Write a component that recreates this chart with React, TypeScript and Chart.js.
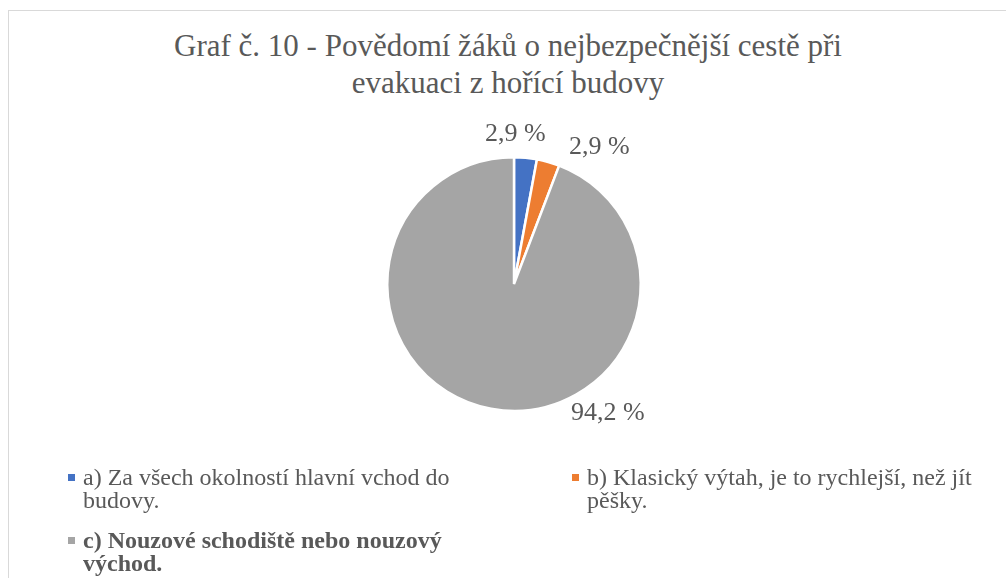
import React, { useEffect, useRef } from "react";
import { Chart, registerables } from "chart.js";

Chart.register(...registerables);

const titleLines = [
  "Graf č. 10 - Povědomí žáků o nejbezpečnější cestě při",
  "evakuaci z hořící budovy",
];
const categories = [
  "a) Za všech okolností hlavní vchod do budovy.",
  "b) Klasický výtah, je to rychlejší, než jít pěšky.",
  "c) Nouzové schodiště nebo nouzový východ.",
];
const values = [2.9, 2.9, 94.2];
const valueLabels = ["2,9 %", "2,9 %", "94,2 %"];
const colors = ["#4472C4", "#ED7D31", "#A5A5A5"];

// label placement (angle from 12 o'clock clockwise in degrees, distance as multiple of radius)
const labelPlacement = [
  [0.5, 1.18],
  [32, 1.27],
  [144, 1.26],
];

const FONT = '"Liberation Serif", "Times New Roman", serif';
const TEXT = "#595959";

const dataLabelPlugin = {
  id: "dataLabelsOut",
  afterDatasetsDraw(chart: any) {
    const ctx = chart.ctx;
    const meta = chart.getDatasetMeta(0);
    ctx.save();
    ctx.font = `26px ${FONT}`;
    ctx.fillStyle = TEXT;
    ctx.textAlign = "center";
    ctx.textBaseline = "middle";
    meta.data.forEach((arc: any, i: number) => {
      const [deg, dist] = labelPlacement[i];
      const a = ((deg - 90) * Math.PI) / 180;
      const r = arc.outerRadius * dist;
      ctx.fillText(valueLabels[i], arc.x + r * Math.cos(a), arc.y + r * Math.sin(a));
    });
    ctx.restore();
  },
};

export default function App() {
  const ref = useRef<HTMLCanvasElement | null>(null);
  useEffect(() => {
    if (!ref.current) return;
    const chart = new Chart(ref.current, {
      type: "pie",
      data: {
        labels: categories,
        datasets: [
          {
            data: values,
            backgroundColor: colors,
            borderColor: "#ffffff",
            borderWidth: 2.5,
          },
        ],
      },
      options: {
        animation: false,
        responsive: false,
        maintainAspectRatio: false,
        layout: { padding: { left: 386, right: 364, top: 156, bottom: 166 } },
        plugins: {
          legend: { display: false },
          title: { display: false },
          tooltip: { enabled: false },
        },
      },
      plugins: [dataLabelPlugin],
    });
    return () => chart.destroy();
  }, []);

  const legendItem = (i: number, left: number, top: number, width: number, bold = false) => (
    <div
      key={i}
      style={{
        position: "absolute",
        left,
        top,
        width,
        display: "flex",
        alignItems: "flex-start",
        fontFamily: FONT,
        fontSize: 24,
        lineHeight: "23px",
        color: TEXT,
        fontWeight: bold ? "bold" : "normal",
      }}
    >
      <span
        style={{
          display: "inline-block",
          width: 7,
          height: 7,
          background: colors[i],
          marginTop: 8,
          marginRight: 8,
          flex: "0 0 auto",
        }}
      />
      <span>{categories[i]}</span>
    </div>
  );

  return (
    <div
      style={{
        position: "absolute",
        left: 0,
        top: 0,
        width: 1006,
        height: 578,
        overflow: "hidden",
        background: "#fff",
      }}
    >
      <div
        style={{
          position: "absolute",
          left: 8,
          top: 10,
          width: 1020,
          height: 620,
          border: "1px solid #d9d9d9",
        }}
      />
      <div
        style={{
          position: "absolute",
          left: 8,
          top: 27,
          width: 1000,
          textAlign: "center",
          fontFamily: FONT,
          fontSize: 31,
          lineHeight: "37px",
          color: TEXT,
        }}
      >
        {titleLines.map((t, i) => (
          <div key={i}>{t}</div>
        ))}
      </div>
      <canvas
        ref={ref}
        width={1006}
        height={578}
        style={{ position: "absolute", left: 0, top: 0, width: 1006, height: 578 }}
      />
      {legendItem(0, 68, 466, 415)}
      {legendItem(1, 572, 466, 415)}
      {legendItem(2, 68, 529, 415, true)}
    </div>
  );
}
